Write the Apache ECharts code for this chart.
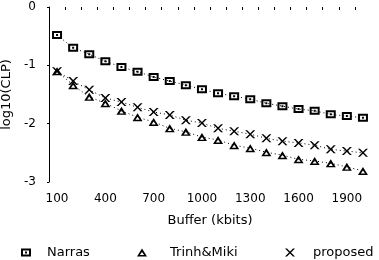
<!DOCTYPE html>
<html>
<head>
<meta charset="utf-8">
<script src="https://cdn.jsdelivr.net/npm/echarts@6/dist/echarts.min.js"></script>
<style>html,body{margin:0;padding:0;background:#fff}#c{width:379px;height:260px}</style>
</head>
<body>
<div id="c"></div>
<script>
var buffer = [100,200,300,400,500,600,700,800,900,1000,1100,1200,1300,1400,1500,1600,1700,1800,1900,2000];
var narras = [-0.48,-0.70,-0.81,-0.93,-1.03,-1.11,-1.20,-1.27,-1.34,-1.41,-1.48,-1.53,-1.58,-1.65,-1.70,-1.75,-1.78,-1.84,-1.87,-1.90];
var trinhMiki = [-1.10,-1.34,-1.54,-1.65,-1.78,-1.89,-1.97,-2.08,-2.14,-2.23,-2.28,-2.37,-2.42,-2.49,-2.54,-2.61,-2.64,-2.68,-2.74,-2.81];
var proposed = [-1.10,-1.27,-1.42,-1.56,-1.63,-1.72,-1.80,-1.85,-1.94,-1.99,-2.08,-2.13,-2.18,-2.25,-2.30,-2.33,-2.37,-2.44,-2.47,-2.50];
var xTickLabels = [100,400,700,1000,1300,1600,1900];
var xTicks = [150,250,350,450,550,650,750,850,950,1050,1150,1250,1350,1450,1550,1650,1750,1850,1950];
var yTickLabels = [0,-1,-2,-3];

var squarePath = 'path://M0 0H10V8H0Z M2 2V6H8V2Z M4 3H6V5H4Z';
var triPath = 'path://M5 0L10 8L0 8Z M5 3.6L2.9 6.6L7.1 6.6Z';
var crossPath = 'path://M0 0L2 0L5 3L8 0L10 0L6 4L10 8L8 8L5 5L2 8L0 8L4 4Z';

function pairs(ys){ return buffer.map(function(x,i){ return [x, ys[i]]; }); }
var font = 'DejaVu Sans';
function mkSeries(name, ys, sym, w, h){
  return {
    name: name, type: 'line', data: pairs(ys),
    symbol: sym, symbolSize: [w,h], showSymbol: true,
    itemStyle: {color: '#000', borderWidth: 0},
    lineStyle: {color: '#000', width: 1, type: [1,3]},
    emphasis: {disabled: true}, animation: false, z: 3
  };
}
function mkLegend(name, icon, left, pad){
  return {
    data: [{name: name, icon: icon}], left: left, top: 241,
    itemWidth: 10, itemHeight: 8, selectedMode: false,
    textStyle: {fontFamily: font, fontSize: 13, color: '#000', padding: [0,0,0,pad]}
  };
}
var chart = echarts.init(document.getElementById('c'));
chart.setOption({
  backgroundColor: '#fff',
  animation: false,
  grid: {left: 49, right: 8, top: 7, bottom: 78, containLabel: false, outerBoundsMode: 'none'},
  xAxis: {
    type: 'value', min: 50, max: 2050,
    name: 'Buffer (kbits)', nameLocation: 'middle', nameGap: 32,
    nameTextStyle: {fontFamily: font, fontSize: 13, color: '#000'},
    axisLine: {show: false},
    axisTick: {show: true, customValues: xTicks, length: 3, lineStyle: {color: '#000'}},
    axisLabel: {customValues: xTickLabels, margin: 11, fontFamily: font, fontSize: 12, color: '#000',
      formatter: function(v){ return String(v); }},
    splitLine: {show: false}
  },
  yAxis: {
    type: 'value', min: -3, max: 0, interval: 1,
    name: 'log10(CLP)', nameLocation: 'middle', nameGap: 36, nameRotate: 90,
    nameTextStyle: {fontFamily: font, fontSize: 13, color: '#000'},
    axisLine: {show: true, lineStyle: {color: '#000', width: 1}},
    axisTick: {show: true, length: 2, lineStyle: {color: '#000'}},
    axisLabel: {customValues: yTickLabels, margin: 13, fontFamily: font, fontSize: 12, color: '#000',
      formatter: function(v){ return String(v); }},
    splitLine: {show: false}
  },
  legend: [
    mkLegend('Narras', squarePath, 16, 11),
    mkLegend('Trinh&Miki', triPath, 132, 18),
    mkLegend('proposed', crossPath, 280, 13)
  ],
  series: [
    mkSeries('Narras', narras, squarePath, 10, 8),
    mkSeries('Trinh&Miki', trinhMiki, triPath, 10, 8),
    mkSeries('proposed', proposed, crossPath, 10, 8)
  ]
});
</script>
</body>
</html>
